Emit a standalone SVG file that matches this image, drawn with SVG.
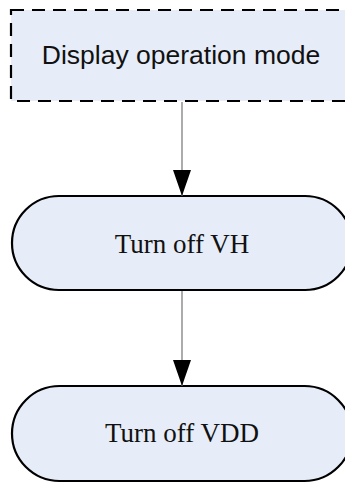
<svg xmlns="http://www.w3.org/2000/svg" width="345" height="483" viewBox="0 0 345 483">
<style>
.node{fill:#e7edf8;stroke:#000;stroke-width:2.2}
.dash{stroke-dasharray:13 8}
.sans{font-family:"Liberation Sans",Arial,sans-serif;font-size:26.5px;fill:#111;text-anchor:middle}
.serif{font-family:"Liberation Serif","Times New Roman",serif;font-size:27px;fill:#111;text-anchor:middle}
.conn{stroke:#7f7f7f;stroke-width:1.3;fill:none}
</style>
<defs>
<marker id="ah" markerUnits="userSpaceOnUse" markerWidth="26" markerHeight="18" refX="26" refY="9" orient="auto" viewBox="0 0 26 18">
<path d="M0,0 L26,9 L0,18 Z" fill="#000"/>
</marker>
</defs>
<rect width="345" height="483" fill="#fff"/>
<g id="n1">
<rect class="node dash" x="11" y="10" width="342" height="91"/>
<text class="sans" x="181" y="64">Display operation mode</text>
</g>
<g id="n2">
<rect class="node" x="12" y="196" width="340" height="94" rx="47" ry="47"/>
<text class="serif" x="182" y="253">Turn off VH</text>
</g>
<g id="n3">
<rect class="node" x="12" y="386" width="340" height="95" rx="47.5" ry="47.5"/>
<text class="serif" x="182" y="442">Turn off VDD</text>
</g>
<g id="connectors">
<line class="conn" x1="182" y1="102" x2="182" y2="196" marker-end="url(#ah)"/>
<line class="conn" x1="182" y1="291" x2="182" y2="386" marker-end="url(#ah)"/>
</g>
</svg>
